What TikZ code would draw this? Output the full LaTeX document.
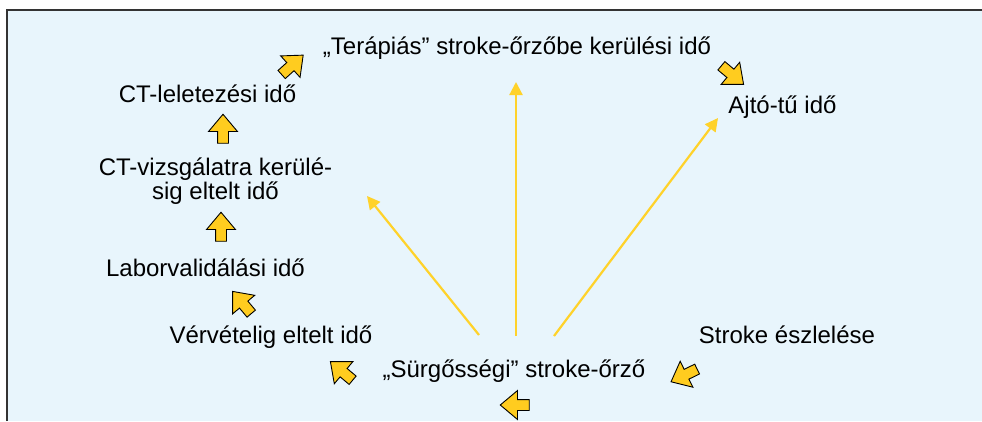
\documentclass[tikz,border=0pt]{standalone}
\usepackage{fontspec}
\setmainfont{Liberation Sans}
\usetikzlibrary{shapes.arrows, arrows.meta}
\definecolor{panel}{HTML}{E8F5FC}
\definecolor{gold}{HTML}{FFCC1F}
\definecolor{goldline}{HTML}{FFD22A}
\begin{document}
\begin{tikzpicture}[x=1pt, y=-1pt,
  lbl/.style={font=\fontsize{24}{22}\selectfont, text=black, inner sep=0pt,
              align=center, anchor=base},
  blk/.style={single arrow, draw=black, line width=0.9pt, fill=gold,
              minimum height=29pt, minimum width=28pt,
              single arrow head extend=9pt, single arrow head indent=0pt,
              single arrow tip angle=80, inner sep=5pt, rotate=#1},
  fan/.style={draw=goldline, line width=2.2pt,
              -{Triangle[length=13pt, width=13pt]}}]
  \useasboundingbox (0,0) rectangle (982,421);

  % panel with its frame on the top and left sides
  \fill[panel] (7,10) rectangle (982,421);
  \draw[line width=1.8pt, black!80] (7,421) -- (7,10) -- (982,10);

  % labels (a two-line label sits on the baseline of its last line)
  \node[lbl] (terap) at (517,54) {„Terápiás” stroke-őrzőbe kerülési idő};
  \node[lbl] (ctlel) at (207.5,102) {CT-leletezési idő};
  \node[lbl] (ctviz) at (215.5,199) {CT-vizsgálatra kerülé-\\sig eltelt idő};
  \node[lbl] (labor) at (205.5,276) {Laborvalidálási idő};
  \node[lbl] (verv)  at (271,343) {Vérvételig eltelt idő};
  \node[lbl] (surg)  at (514,377) {„Sürgősségi” stroke-őrző};
  \node[lbl] (eszl)  at (787,343) {Stroke észlelése};
  \node[lbl] (ajto)  at (782.5,113) {Ajtó-tű idő};

  % block arrows along the sequence
  \node[blk=180] (b1) at (518,405) {};
  \node[blk=206] (b2) at (687,374) {};
  \node[blk=140] (b3) at (344,373) {};
  \node[blk=130] (b4) at (244,305) {};
  \node[blk=90]  (b5) at (221,230) {};
  \node[blk=90]  (b6) at (223,132) {};
  \node[blk=42]  (b7) at (290,67) {};
  \node[blk=-40] (b8) at (730,73) {};

  % fan of thin arrows from the emergency stroke unit
  \coordinate (fanL0) at (479,335);
  \coordinate (fanM0) at (516,336);
  \coordinate (fanR0) at (554,336);
  \coordinate (fanL1) at (367,196);
  \coordinate (fanM1) at (516,82);
  \coordinate (fanR1) at (718,118);
  \draw[fan] (fanL0) -- (fanL1);
  \draw[fan] (fanM0) -- (fanM1);
  \draw[fan] (fanR0) -- (fanR1);
\end{tikzpicture}
\end{document}
